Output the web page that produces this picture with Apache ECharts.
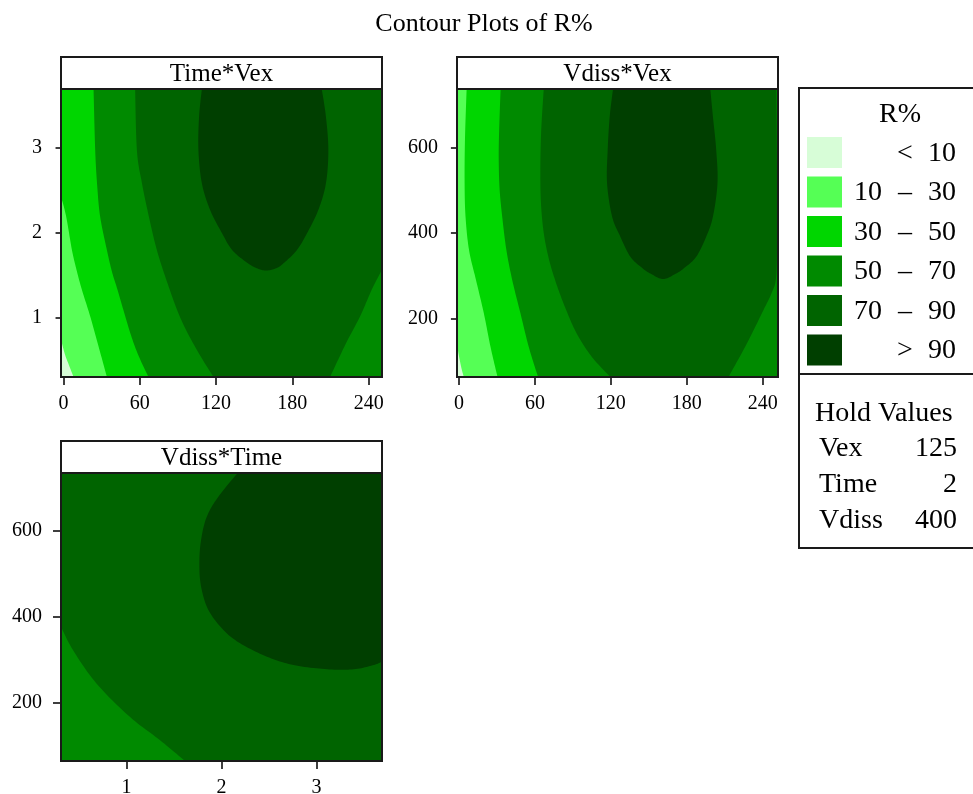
<!DOCTYPE html>
<html><head><meta charset="utf-8">
<script src="https://cdn.jsdelivr.net/npm/echarts@6/dist/echarts.min.js"></script>
<style>html,body{margin:0;padding:0;background:#fff}#c{width:973px;height:794px}</style>
</head><body><div id="c"></div>
<script>
// ---------------- data ----------------
const TITLE = 'Contour Plots of R%';
const PANEL_TITLES = ['Time*Vex', 'Vdiss*Vex', 'Vdiss*Time'];
const LEGEND_TITLE = 'R%';
const LEVEL_LABELS = [['', '<', '10'], ['10', '–', '30'], ['30', '–', '50'], ['50', '–', '70'], ['70', '–', '90'], ['', '>', '90']];
const LEVEL_COLORS = ['#d7fdd7', '#55ff55', '#00d600', '#008a00', '#006400', '#003f00'];
const HOLD_TITLE = 'Hold Values';
const HOLD_NAMES = ['Vex', 'Time', 'Vdiss'];
const HOLD_VALUES = ['125', '2', '400'];

const VEX_TICKS = [0, 60, 120, 180, 240];
const TIME_TICKS = [1, 2, 3];
const VDISS_TICKS = [200, 400, 600];

// axis extents per panel
const P1_X = [-2, 250.5], P1_Y = [0.31, 3.69];   // Vex, Time
const P2_X = [-1.5, 252], P2_Y = [63, 737];      // Vex, Vdiss
const P3_X = [0.31, 3.69], P3_Y = [63, 735];     // Time, Vdiss

// contour lines (data coordinates)
// Panel 1: Time (y) vs Vex (x)
const P1_C10 = [[-2, 0.75], [1, 0.58], [4.5, 0.44], [7.9, 0.31]];
const P1_C30 = [[-2, 2.43], [2.1, 2.19], [6.6, 1.80], [10.5, 1.55], [14.5, 1.33], [21, 1.02], [27.5, 0.67], [34.1, 0.31]];
const P1_C50 = [[23.6, 3.69], [24.9, 2.97], [26.5, 2.55], [28.8, 2.19], [34.1, 1.80], [38, 1.55], [42.5, 1.33], [52.4, 0.83], [59, 0.56], [66.8, 0.31]];
const P1_C70A = [[56.3, 3.69], [57.7, 2.97], [61.6, 2.59], [67, 2.2], [73.4, 1.80], [82, 1.4], [92, 1.0], [104, 0.65], [117.9, 0.31]];
const P1_C70B = [[209.6, 0.31], [222, 0.7], [233.2, 1.02], [242.3, 1.33], [250.5, 1.57]];
const P1_C90 = [[108.8, 3.69], [106.6, 3.363], [106.1, 2.973], [108.8, 2.583], [115.3, 2.27], [124.7, 1.996], [132.6, 1.80], [143.6, 1.66], [151.4, 1.59], [159.3, 1.56], [167.9, 1.59], [174.2, 1.66], [183.6, 1.80], [191.5, 1.996], [200.4, 2.27], [206.4, 2.583], [208.3, 2.973], [206.4, 3.363], [203.1, 3.69]];

// Panel 2: Vdiss (y) vs Vex (x)
const P2_C10 = [[-1.5, 137], [0.5, 105], [2.3, 80], [3.9, 63]];
const P2_C30 = [[6.1, 737], [4.8, 620], [4.5, 520], [5.2, 440], [8, 360], [13.5, 290], [19.7, 212], [25, 133], [30.5, 63]];
const P2_C50 = [[32.9, 737], [31.6, 620], [31.5, 560], [32.2, 500], [34.2, 438], [37.5, 360], [42.1, 290], [48.6, 212], [55.2, 133], [62.5, 63]];
const P2_C70A = [[67, 737], [65, 640], [64.3, 550], [64.8, 470], [67, 400], [71, 340], [76.5, 285], [84, 225], [93, 165], [105, 110], [119.6, 63]];
const P2_C70B = [[212.9, 63], [227.4, 141.4], [240.5, 219.5], [247, 260], [250.5, 297], [251.3, 400], [251.2, 550], [250.6, 737]];
const P2_C90 = [[121.7, 737], [119.1, 672.7], [117.5, 594.6], [117, 516.5], [121, 438.2], [127.5, 391.3], [135.4, 344.4], [144.8, 317.9], [151.9, 303.9], [161.3, 292.2], [170.8, 303.9], [177.9, 317.9], [187.4, 344.4], [195.3, 391.3], [200.6, 438.2], [204.2, 516.5], [203.2, 594.6], [200.6, 672.7], [198.5, 737]];

// Panel 3: Vdiss (y) vs Time (x)
const P3_C70 = [[0.31, 376], [0.436, 322], [0.683, 244], [1.035, 166], [1.35, 112], [1.616, 63]];
const P3_C90 = [[2.17, 735], [1.967, 679.8], [1.845, 633.1], [1.785, 578.8], [1.767, 524.4], [1.785, 469.8], [1.862, 415.4], [2.02, 368.7], [2.196, 337.7], [2.478, 306.4], [2.759, 287], [3.112, 277], [3.393, 277], [3.604, 287], [3.69, 294.8]];

// regions: band index c, outline parts: 's' smooth contour, 'c' plot corners
const P1_REGIONS = [
  { c: 0, parts: [['c', ['BL', 'BR', 'TR', 'TL']]] },
  { c: 1, parts: [['s', P1_C10], ['c', ['BR', 'TR', 'TL']]] },
  { c: 2, parts: [['s', P1_C30], ['c', ['BR', 'TR', 'TL']]] },
  { c: 3, parts: [['s', P1_C50], ['c', ['BR', 'TR']]] },
  { c: 4, parts: [['s', P1_C70A], ['s', P1_C70B], ['c', ['TR']]] },
  { c: 5, parts: [['s', P1_C90]] }
];
const P2_REGIONS = [
  { c: 0, parts: [['c', ['BL', 'BR', 'TR', 'TL']]] },
  { c: 1, parts: [['s', P2_C10], ['c', ['BR', 'TR', 'TL']]] },
  { c: 2, parts: [['s', P2_C30], ['c', ['BR', 'TR']]] },
  { c: 3, parts: [['s', P2_C50], ['c', ['BR', 'TR']]] },
  { c: 4, parts: [['s', P2_C70A], ['s', P2_C70B]] },
  { c: 5, parts: [['s', P2_C90]] }
];
const P3_REGIONS = [
  { c: 3, parts: [['c', ['BL', 'BR', 'TR', 'TL']]] },
  { c: 4, parts: [['s', P3_C70], ['c', ['BR', 'TR', 'TL']]] },
  { c: 5, parts: [['s', P3_C90], ['c', ['TR']]] }
];

// ---------------- layout ----------------
const GRIDS = [
  { left: 61, top: 89, width: 321, height: 288 },
  { left: 457, top: 89, width: 321, height: 288 },
  { left: 61, top: 473, width: 321, height: 288 }
];
const STRIP_H = 32;
const SERIF = '"Liberation Serif", "Times New Roman", serif';
const INK = '#1a1a1a';

function corner(k, X, Y) {
  return [k[1] === 'L' ? X[0] : X[1], k[0] === 'B' ? Y[0] : Y[1]];
}
function spline(pts, seg) {
  const out = [], n = pts.length;
  if (n < 3) return pts.slice();
  for (let i = 0; i < n - 1; i++) {
    const p0 = pts[Math.max(i - 1, 0)], p1 = pts[i], p2 = pts[i + 1], p3 = pts[Math.min(i + 2, n - 1)];
    for (let k = 0; k < seg; k++) {
      const t = k / seg, t2 = t * t, t3 = t2 * t;
      const f = j => 0.5 * (2 * p1[j] + (-p0[j] + p2[j]) * t + (2 * p0[j] - 5 * p1[j] + 4 * p2[j] - p3[j]) * t2 + (-p0[j] + 3 * p1[j] - 3 * p2[j] + p3[j]) * t3);
      out.push([f(0), f(1)]);
    }
  }
  out.push(pts[n - 1]);
  return out;
}
function makeSeries(gi, X, Y, regions) {
  return {
    type: 'custom', xAxisIndex: gi, yAxisIndex: gi, clip: true, silent: true,
    data: regions.map((r, i) => [X[0], Y[0], i]),
    renderItem: function (params, api) {
      const r = regions[params.dataIndex];
      let pts = [];
      r.parts.forEach(([kind, arr]) => {
        if (kind === 'c') arr.forEach(k => pts.push(api.coord(corner(k, X, Y))));
        else pts = pts.concat(spline(arr.map(p => api.coord(p)), 12));
      });
      return { type: 'polygon', z2: params.dataIndex, shape: { points: pts }, style: { fill: LEVEL_COLORS[r.c] } };
    }
  };
}
function axis(gi, ext, ticks, dir) {
  return {
    type: 'value', gridIndex: gi, min: ext[0], max: ext[1],
    axisLine: { show: false }, splitLine: { show: false },
    axisTick: { show: true, length: 8, customValues: ticks, lineStyle: { color: '#000', width: 1.5 } },
    axisLabel: { customValues: ticks, color: '#000', fontFamily: SERIF, fontSize: 20, margin: dir === 'x' ? 17 : 19 }
  };
}

const graphics = [];
// title
graphics.push({ type: 'text', x: 484, y: 24, z: 100, style: { text: TITLE, font: '26px ' + SERIF, fill: '#000', textAlign: 'center', textVerticalAlign: 'middle' } });
GRIDS.forEach((g, i) => {
  graphics.push({ type: 'rect', z: 100, shape: { x: g.left, y: g.top, width: g.width, height: g.height }, style: { fill: 'none', stroke: INK, lineWidth: 2 } });
  graphics.push({ type: 'rect', z: 100, shape: { x: g.left, y: g.top - STRIP_H, width: g.width, height: STRIP_H }, style: { fill: '#fff', stroke: INK, lineWidth: 2 } });
  graphics.push({ type: 'text', z: 101, x: g.left + g.width / 2, y: g.top - STRIP_H / 2 + 1, style: { text: PANEL_TITLES[i], font: '25px ' + SERIF, fill: '#000', textAlign: 'center', textVerticalAlign: 'middle' } });
});
// legend box
const LX = 799, LT = 88, LDIV = 374, LB = 548;
graphics.push({ type: 'rect', z: 100, shape: { x: LX, y: LT, width: 200, height: LB - LT }, style: { fill: '#fff', stroke: INK, lineWidth: 2 } });
graphics.push({ type: 'line', z: 101, shape: { x1: LX, y1: LDIV, x2: 999, y2: LDIV }, style: { stroke: INK, lineWidth: 2 } });
graphics.push({ type: 'text', z: 101, x: 900, y: 115, style: { text: LEGEND_TITLE, font: '28px ' + SERIF, fill: '#000', textAlign: 'center', textVerticalAlign: 'middle' } });
LEVEL_LABELS.forEach((lab, i) => {
  const cy = 152.5 + i * 39.5;
  graphics.push({ type: 'rect', z: 101, shape: { x: 807, y: cy - 15.5, width: 35, height: 31 }, style: { fill: LEVEL_COLORS[i] } });
  const fnt = '28px ' + SERIF;
  graphics.push({ type: 'text', z: 101, x: 882, y: cy + 1, style: { text: lab[0], font: fnt, fill: '#000', textAlign: 'right', textVerticalAlign: 'middle' } });
  graphics.push({ type: 'text', z: 101, x: 905, y: cy + 1, style: { text: lab[1], font: fnt, fill: '#000', textAlign: 'center', textVerticalAlign: 'middle' } });
  graphics.push({ type: 'text', z: 101, x: 956, y: cy + 1, style: { text: lab[2], font: fnt, fill: '#000', textAlign: 'right', textVerticalAlign: 'middle' } });
});
graphics.push({ type: 'text', z: 101, x: 815, y: 414, style: { text: HOLD_TITLE, font: '28px ' + SERIF, fill: '#000', textAlign: 'left', textVerticalAlign: 'middle' } });
HOLD_NAMES.forEach((n, i) => {
  const cy = 449 + i * 36;
  graphics.push({ type: 'text', z: 101, x: 819, y: cy, style: { text: n, font: '28px ' + SERIF, fill: '#000', textAlign: 'left', textVerticalAlign: 'middle' } });
  graphics.push({ type: 'text', z: 101, x: 957, y: cy, style: { text: HOLD_VALUES[i], font: '28px ' + SERIF, fill: '#000', textAlign: 'right', textVerticalAlign: 'middle' } });
});

const chart = echarts.init(document.getElementById('c'), null, { renderer: 'canvas' });
chart.setOption({
  animation: false,
  backgroundColor: '#fff',
  grid: GRIDS.map(g => Object.assign({ show: false, containLabel: false, outerBoundsMode: 'none' }, g)),
  xAxis: [axis(0, P1_X, VEX_TICKS, 'x'), axis(1, P2_X, VEX_TICKS, 'x'), axis(2, P3_X, TIME_TICKS, 'x')],
  yAxis: [axis(0, P1_Y, TIME_TICKS, 'y'), axis(1, P2_Y, VDISS_TICKS, 'y'), axis(2, P3_Y, VDISS_TICKS, 'y')],
  series: [makeSeries(0, P1_X, P1_Y, P1_REGIONS), makeSeries(1, P2_X, P2_Y, P2_REGIONS), makeSeries(2, P3_X, P3_Y, P3_REGIONS)],
  graphic: graphics
});
</script></body></html>
